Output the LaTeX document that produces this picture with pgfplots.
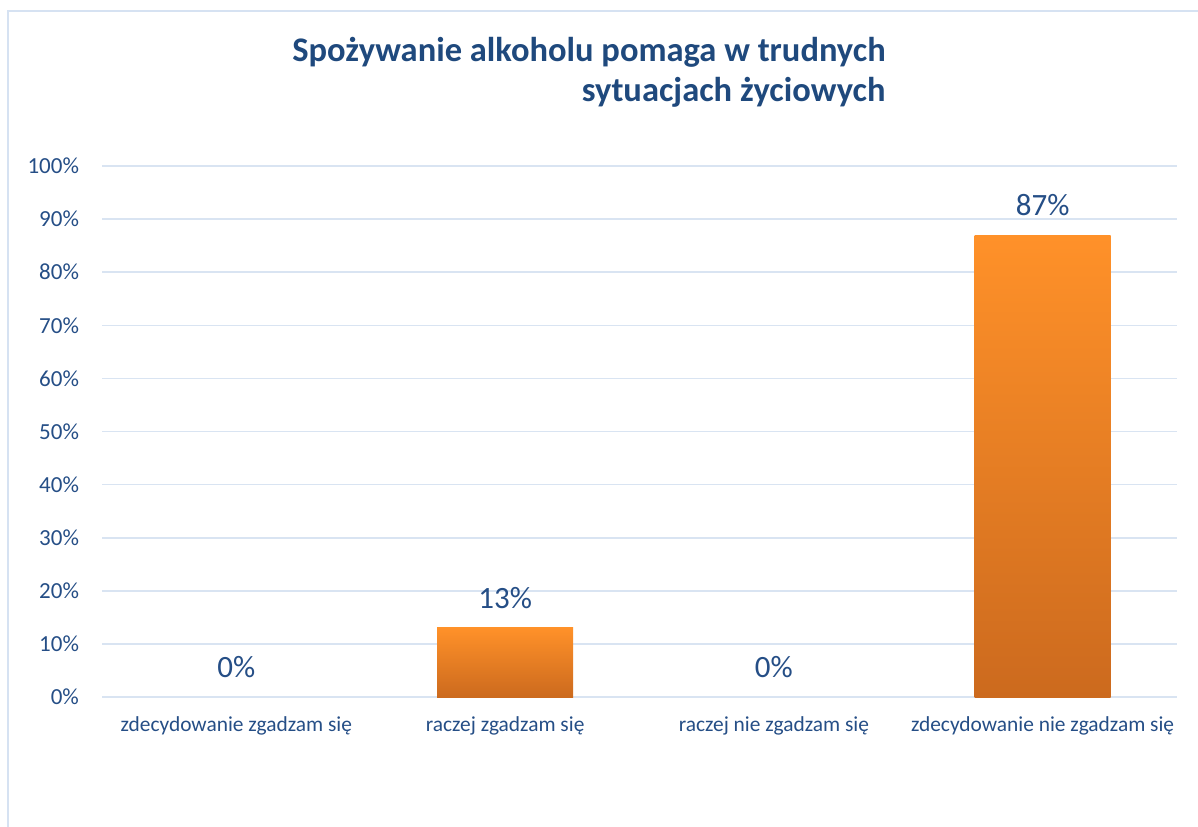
\documentclass[border=0pt]{standalone}
\usepackage{pgfplots}
\pgfplotsset{compat=1.18}
\usepackage{fontspec}
\setmainfont{Carlito}
\definecolor{titleblue}{HTML}{1F497D}
\definecolor{lblblue}{HTML}{254E86}
\definecolor{gridc}{HTML}{D9E4F2}
\definecolor{frame}{HTML}{D6E2F2}
\definecolor{bartop}{HTML}{FF9129}
\definecolor{barbot}{HTML}{CC6A1E}
\begin{document}
\begin{tikzpicture}
\useasboundingbox (0pt,0pt) rectangle (599pt,413pt);
\clip (0pt,0pt) rectangle (599pt,413pt);
\draw[frame, line width=1.2pt] (4pt,-10pt) -- (4pt,407.5pt) -- (615pt,407.5pt);
\node[anchor=base east, font=\fontsize{17.25}{20}\selectfont\bfseries, text=titleblue, inner sep=0pt] at (443pt,382pt) {Spożywanie alkoholu pomaga w trudnych};
\node[anchor=base east, font=\fontsize{17.25}{20}\selectfont\bfseries, text=titleblue, inner sep=0pt] at (443pt,362pt) {sytuacjach życiowych};
\begin{axis}[
  at={(51pt,64.5pt)}, anchor=south west,
  scale only axis, width=537.5pt, height=265.5pt,
  ymin=0, ymax=100, xmin=-0.5, xmax=3.5,
  ytick={0,10,...,100},
  yticklabels={0\%,10\%,20\%,30\%,40\%,50\%,60\%,70\%,80\%,90\%,100\%},
  xtick={0,1,2,3},
  xticklabels={zdecydowanie zgadzam się,raczej zgadzam się,raczej nie zgadzam się,zdecydowanie nie zgadzam się},
  axis line style={draw=none},
  major tick length=0pt,
  ymajorgrids, major grid style={gridc, line width=0.8pt},
  yticklabel style={font=\fontsize{11.5}{13}\selectfont, text=lblblue, xshift=-8pt},
  xticklabel style={font=\fontsize{10.7}{13}\selectfont, text=lblblue, yshift=-6.5pt},
  nodes near coords={\pgfmathprintnumber[assume math mode=true]{\pgfplotspointmeta}\%},
  nodes near coords style={font=\fontsize{15.5}{18}\selectfont, text=lblblue, yshift=6pt},
  clip=false,
  barstyle/.style={ybar, bar width=68pt, draw=none, top color=bartop, bottom color=barbot},
]
\addplot[barstyle] coordinates {(0,0)};
\addplot[barstyle] coordinates {(1,13)};
\addplot[barstyle] coordinates {(2,0)};
\addplot[barstyle] coordinates {(3,87)};
\end{axis}
\end{tikzpicture}
\end{document}
